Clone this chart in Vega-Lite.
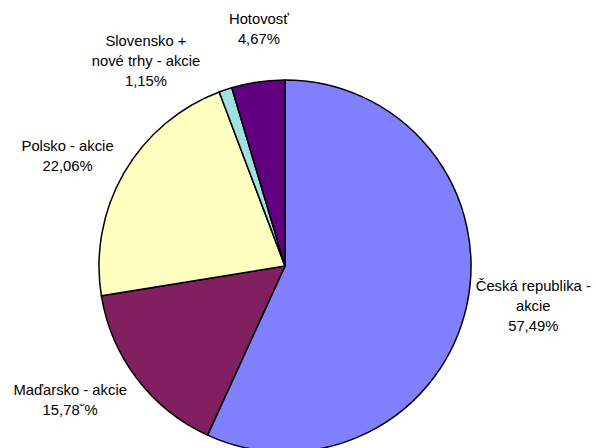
{
  "$schema": "https://vega.github.io/schema/vega-lite/v6.json",
  "width": 596,
  "height": 448,
  "autosize": "none",
  "padding": 0,
  "background": "white",
  "config": {"view": {"stroke": null}},
  "data": {"values": [
    {"i": 1, "name": "Česká republika - akcie", "value": 57.49, "label": "Česká republika -\nakcie\n57,49%"},
    {"i": 2, "name": "Maďarsko - akcie", "value": 15.78, "label": "Maďarsko - akcie\n15,78ˇ%"},
    {"i": 3, "name": "Polsko - akcie", "value": 22.06, "label": "Polsko - akcie\n22,06%"},
    {"i": 4, "name": "Slovensko + nové trhy - akcie", "value": 1.15, "label": "Slovensko +\nnové trhy - akcie\n1,15%"},
    {"i": 5, "name": "Hotovosť", "value": 4.67, "label": "Hotovosť\n4,67%"}
  ]},
  "encoding": {
    "theta": {"field": "value", "type": "quantitative", "stack": true},
    "order": {"field": "i", "type": "quantitative"}
  },
  "layer": [
    {
      "mark": {"type": "arc", "radius": 186, "stroke": "black", "strokeWidth": 1.5, "xOffset": -13, "yOffset": 42},
      "encoding": {
        "color": {"field": "name", "type": "nominal", "legend": null,
          "scale": {"domain": ["Česká republika - akcie", "Maďarsko - akcie", "Polsko - akcie", "Slovensko + nové trhy - akcie", "Hotovosť"],
                    "range": ["#8080FF", "#802060", "#FFFFC0", "#A0E0E0", "#600080"]}}
      }
    },
    {
      "mark": {"type": "text", "radius": 250, "xOffset": -13, "yOffset": 42, "dx": 4, "dy": -32, "font": "Liberation Sans", "fontSize": 14.8, "lineHeight": 20, "lineBreak": "\n", "align": "center", "baseline": "middle", "color": "black"},
      "encoding": {"text": {"condition": {"test": "datum.i === 1", "field": "label"}, "value": ""}}
    },
    {
      "mark": {"type": "text", "radius": 250, "xOffset": -13, "yOffset": 42, "dx": -16, "dy": -27, "font": "Liberation Sans", "fontSize": 14.8, "lineHeight": 20, "lineBreak": "\n", "align": "center", "baseline": "middle", "color": "black"},
      "encoding": {"text": {"condition": {"test": "datum.i === 2", "field": "label"}, "value": ""}}
    },
    {
      "mark": {"type": "text", "radius": 250, "xOffset": -13, "yOffset": 42, "dx": -1, "dy": 6, "font": "Liberation Sans", "fontSize": 14.8, "lineHeight": 20, "lineBreak": "\n", "align": "center", "baseline": "middle", "color": "black"},
      "encoding": {"text": {"condition": {"test": "datum.i === 3", "field": "label"}, "value": ""}}
    },
    {
      "mark": {"type": "text", "radius": 250, "xOffset": -13, "yOffset": 42, "dx": -59, "dy": 13, "font": "Liberation Sans", "fontSize": 14.8, "lineHeight": 20, "lineBreak": "\n", "align": "center", "baseline": "middle", "color": "black"},
      "encoding": {"text": {"condition": {"test": "datum.i === 4", "field": "label"}, "value": ""}}
    },
    {
      "mark": {"type": "text", "radius": 250, "xOffset": -13, "yOffset": 42, "dx": 10, "dy": 1, "font": "Liberation Sans", "fontSize": 14.8, "lineHeight": 20, "lineBreak": "\n", "align": "center", "baseline": "middle", "color": "black"},
      "encoding": {"text": {"condition": {"test": "datum.i === 5", "field": "label"}, "value": ""}}
    }
  ]
}
